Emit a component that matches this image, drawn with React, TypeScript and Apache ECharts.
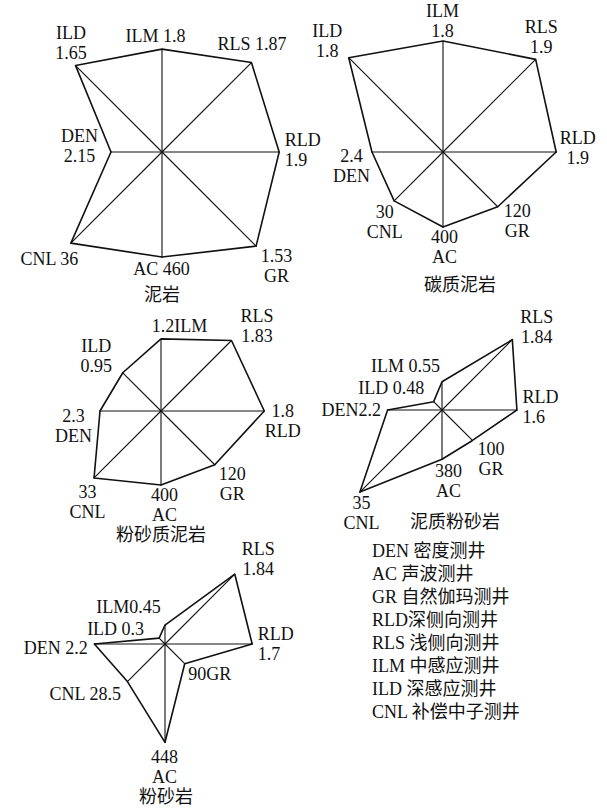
import React, { useEffect, useRef } from 'react';
import * as echarts from 'echarts';

// Indicator order (ECharts radar runs counter-clockwise from the top)
const AXES = ['ILM', 'ILD', 'DEN', 'CNL', 'AC', 'GR', 'RLD', 'RLS'];

// Values written at each vertex
const mudstoneValues = [1.8, 1.65, 2.15, 36, 460, 1.53, 1.9, 1.87];
const carbonMudValues = [1.8, 1.8, 2.4, 30, 400, 120, 1.9, 1.9];
const siltyMudValues = [1.2, 0.95, 2.3, 33, 400, 120, 1.8, 1.83];
const muddySiltValues = [0.55, 0.48, 2.2, 35, 380, 100, 1.6, 1.84];
const siltstoneValues = [0.45, 0.3, 2.2, 28.5, 448, 90, 1.7, 1.84];

// Axis scale maxima of each diagram (min is 0)
const mudstoneMax = [2.45, 1.89, 5.9, 39.1, 613, 1.61, 2.27, 2.07];
const carbonMudMax = [2.27, 1.89, 4.73, 60.8, 747, 217, 2.35, 2.03];
const siltyMudMax = [2.33, 2.46, 5.28, 48.8, 757, 221, 2.44, 2.57];
const muddySiltMax = [2.72, 5.7, 5.66, 42.2, 1079, 325, 2.99, 2.59];
const siltstoneMax = [3.32, 5.06, 4.36, 75.1, 638, 452, 2.73, 2.61];

const chartTitles = ['泥岩', '碳质泥岩', '粉砂质泥岩', '泥质粉砂岩', '粉砂岩'];

const legendLines = [
  'DEN 密度测井',
  'AC 声波测井',
  'GR 自然伽玛测井',
  'RLD深侧向测井',
  'RLS 浅侧向测井',
  'ILM 中感应测井',
  'ILD 深感应测井',
  'CNL 补偿中子测井',
];

type Lbl = [string, number, number, 'left' | 'center' | 'right'];

const FONT = "'Liberation Serif', 'Noto Sans CJK SC', serif";
const INK = '#111';
const R = 140;

const panels: {
  values: number[];
  max: number[];
  center: [number, number];
  titleAt: [number, number];
  labels: Lbl[];
}[] = [
  {
    values: mudstoneValues,
    max: mudstoneMax,
    center: [162, 152],
    titleAt: [162, 295],
    labels: [
      ['{n} {v}', -6, -13, 'center'],
      ['{n}\n{v}', -4, -22, 'center'],
      ['{n}\n{v}', -31, -6, 'center'],
      ['{n} {v}', -21, 16, 'center'],
      ['{n} {v}', 0, 12, 'center'],
      ['{v}\n{n}', 21, 20, 'center'],
      ['{n}\n{v}', 6, -2, 'left'],
      ['{n} {v}', 1, -18, 'center'],
    ],
  },
  {
    values: carbonMudValues,
    max: carbonMudMax,
    center: [443, 152],
    titleAt: [460, 285],
    labels: [
      ['{n}\n{v}', 0, -19, 'center'],
      ['{n}\n{v}', -21, -16, 'center'],
      ['{v}\n{n}', -20, 14, 'center'],
      ['{v}\n{n}', -9, 22, 'center'],
      ['{v}\n{n}', 2, 21, 'center'],
      ['{v}\n{n}', 20, 15, 'center'],
      ['{n}\n{v}', 22, -4, 'center'],
      ['{n}\n{v}', 6, -22, 'center'],
    ],
  },
  {
    values: siltyMudValues,
    max: siltyMudMax,
    center: [161, 411],
    titleAt: [161, 535],
    labels: [
      ['{v}{n}', 19, -12, 'center'],
      ['{n}\n{v}', -26, -16, 'center'],
      ['{v}\n{n}', -26, 15, 'center'],
      ['{v}\n{n}', -6, 25, 'center'],
      ['{v}\n{n}', 4, 21, 'center'],
      ['{v}\n{n}', 18, 20, 'center'],
      ['{v}\n{n}', 19, 10, 'center'],
      ['{n}\n{v}', 26, -14, 'center'],
    ],
  },
  {
    values: muddySiltValues,
    max: muddySiltMax,
    center: [442, 410],
    titleAt: [455, 522],
    labels: [
      ['{n} {v}', -36, -15, 'center'],
      ['{n} {v}', -42, -13, 'center'],
      ['{n}{v}', -6, 0, 'right'],
      ['{v}\n{n}', 2, 21, 'center'],
      ['{v}\n{n}', 7, 22, 'center'],
      ['{v}\n{n}', 19, 19, 'center'],
      ['{n}\n{v}', 6, -3, 'left'],
      ['{n}\n{v}', 25, -12, 'center'],
    ],
  },
  {
    values: siltstoneValues,
    max: siltstoneMax,
    center: [165, 644],
    titleAt: [166, 797],
    labels: [
      ['{n}{v}', -36, -18, 'center'],
      ['{n} {v}', -43, -9, 'center'],
      ['{n} {v}', -6, 4, 'right'],
      ['{n} {v}', -6, 13, 'right'],
      ['{v}\n{n}', 0, 25, 'center'],
      ['{v}{n}', 4, 11, 'left'],
      ['{n}\n{v}', 6, 0, 'left'],
      ['{n}\n{v}', 24, -15, 'center'],
    ],
  },
];

function buildOption() {
  const radar = panels.map((p) => ({
    center: p.center,
    radius: R,
    startAngle: 90,
    shape: 'polygon',
    indicator: AXES.map((n, i) => ({ name: n, min: 0, max: p.max[i] })),
    axisName: { show: false },
    axisLine: { show: false },
    axisTick: { show: false },
    axisLabel: { show: false },
    splitLine: { show: false },
    splitArea: { show: false },
  }));

  const series: any[] = [];
  panels.forEach((p, pi) => {
    series.push({
      type: 'radar',
      radarIndex: pi,
      silent: true,
      symbol: 'none',
      lineStyle: { color: INK, width: 1.6 },
      data: [{ name: chartTitles[pi], value: p.values }],
    });
    series.push({
      type: 'radar',
      radarIndex: pi,
      silent: true,
      symbol: 'circle',
      symbolSize: 1,
      itemStyle: { color: INK },
      lineStyle: { color: INK, width: 1.1 },
      data: AXES.map((n, k) => {
        const [tpl, dx, dy, align] = p.labels[k];
        const text = tpl.replace('{n}', n).replace('{v}', String(p.values[k]));
        return {
          name: n,
          value: p.values.map((v, j) => (j === k ? v : 0)),
          label: {
            show: true,
            position: [dx, dy],
            align,
            verticalAlign: 'middle',
            color: INK,
            fontFamily: FONT,
            fontSize: 18,
            lineHeight: 20,
            formatter: (prm: any) => {
              const v = Array.isArray(prm.value) ? null : prm.value;
              return v ? text : '';
            },
          },
        };
      }),
    });
  });

  const graphic: any[] = [];
  panels.forEach((p, pi) => {
    graphic.push({
      type: 'text',
      x: p.titleAt[0],
      y: p.titleAt[1],
      silent: true,
      style: {
        text: chartTitles[pi],
        align: 'center',
        verticalAlign: 'middle',
        fill: INK,
        font: `18px ${FONT}`,
      },
    });
  });
  legendLines.forEach((t, i) => {
    graphic.push({
      type: 'text',
      x: 372,
      y: 551 + i * 23,
      silent: true,
      style: {
        text: t,
        align: 'left',
        verticalAlign: 'middle',
        fill: INK,
        font: `18px ${FONT}`,
      },
    });
  });

  return {
    animation: false,
    backgroundColor: '#fff',
    radar,
    series,
    graphic,
  };
}

export default function App() {
  const ref = useRef<HTMLDivElement>(null);
  useEffect(() => {
    if (!ref.current) return;
    const chart = echarts.init(ref.current, null, { renderer: 'svg' });
    chart.setOption(buildOption() as any);
    return () => chart.dispose();
  }, []);
  return (
    <div
      ref={ref}
      style={{ position: 'absolute', left: 0, top: 0, width: 607, height: 808, background: '#fff' }}
    />
  );
}
